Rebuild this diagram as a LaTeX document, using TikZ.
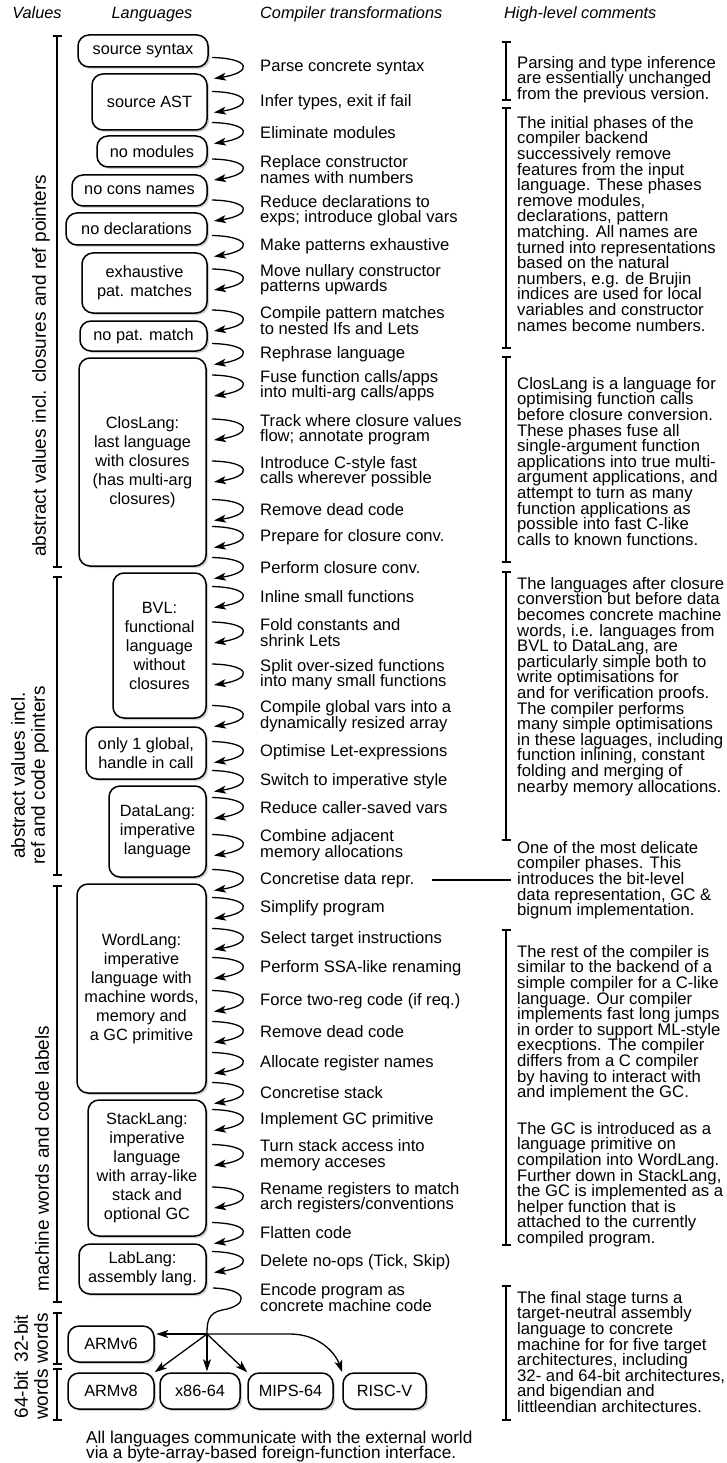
\documentclass[tikz,border=0pt]{standalone}
\usepackage{fontspec}
\setmainfont{Liberation Sans}
\usepackage{tikz}
\usetikzlibrary{arrows.meta,shadows}
\lineskiplimit=-8pt

\begin{document}
\begin{tikzpicture}[x=1pt,y=-1pt,
  every node/.style={inner sep=0pt},
  lang/.style={draw,line width=1.5pt,rounded corners=11pt,fill=white,align=center,
    font=\fontsize{16.3}{19}\selectfont,
    drop shadow={shadow xshift=2pt,shadow yshift=-2pt,fill=black!30,opacity=.6}},
  trans/.style={anchor=west,align=left,font=\fontsize{16.6}{15.5}\selectfont},
  note/.style={anchor=north west,align=left,font=\fontsize{16.7}{15.6}\selectfont},
  hdr/.style={font=\fontsize{16.3}{19}\selectfont\itshape},
  vlabel/.style={rotate=90,align=center,font=\fontsize{19}{20}\selectfont},
  stepto/.style={line width=1.3pt,-{Stealth[length=12pt,width=8pt,inset=3pt]}},
  bar/.style={line width=1.5pt}]

\useasboundingbox (0,0) rectangle (726,1463);

%Headers
\node[hdr,anchor=base] (hval) at (37,19) {Values};
\node[hdr,anchor=base] (hlang) at (152,19) {Languages};
\node[hdr,anchor=base west] (htrans) at (260,19) {Compiler transformations};
\node[hdr,anchor=base west] (hcom) at (504,19) {High-level comments};

%Languages
\node[lang,minimum width=130pt,minimum height=32pt] (srcsyn) at (143,51) {source syntax};
\node[lang,minimum width=115pt,minimum height=56pt] (srcast) at (149.5,102) {source AST};
\node[lang,minimum width=110pt,minimum height=31pt] (nomods) at (152,151.5) {no modules};
\node[lang,minimum width=135pt,minimum height=31pt] (nocons) at (139.5,190.5) {no cons names};
\node[lang,minimum width=141pt,minimum height=32pt] (nodecl) at (136.5,229) {no declarations};
\node[lang,minimum width=125pt,minimum height=60pt] (exhpat) at (144.5,283) {exhaustive\\pat. matches};
\node[lang,minimum width=127pt,minimum height=30pt] (nopat) at (143.5,336) {no pat. match};
\node[lang,minimum width=127pt,minimum height=208pt] (clos) at (142.5,462) {ClosLang:\\last language\\with closures\\(has multi-arg\\closures)};
\node[lang,minimum width=93pt,minimum height=145pt] (bvl) at (159.5,645.5) {BVL:\\functional\\language\\without\\closures};
\node[lang,minimum width=120pt,minimum height=52pt] (oneglob) at (146,753) {only 1 global,\\handle in call};
\node[lang,minimum width=97pt,minimum height=91pt] (data) at (157.5,831.5) {DataLang:\\imperative\\language};
\node[lang,minimum width=129pt,minimum height=209pt] (word) at (141.5,988.5) {WordLang:\\imperative\\language with\\machine words,\\memory and\\a GC primitive};
\node[lang,minimum width=118pt,minimum height=136pt] (stack) at (147,1168) {StackLang:\\imperative\\language\\with array-like\\stack and\\optional GC};
\node[lang,minimum width=127pt,minimum height=50pt] (lab) at (142.5,1269) {LabLang:\\assembly lang.};

%Targets
\node[lang,minimum width=86pt,minimum height=36pt] (armvsix) at (111,1344) {ARMv6};
\node[lang,minimum width=86pt,minimum height=36pt] (armveight) at (111,1391) {ARMv8};
\node[lang,minimum width=80pt,minimum height=36pt] (xeightsix) at (200,1391) {x86-64};
\node[lang,minimum width=85pt,minimum height=36pt] (mips) at (290.5,1391) {MIPS-64};
\node[lang,minimum width=83pt,minimum height=36pt] (riscv) at (384.5,1391) {RISC-V};

%Transformations
\foreach \y/\txt [count=\i] in {68/{Parse concrete syntax}, 102/{Infer types, exit if fail},
  133/{Eliminate modules}, 169.5/{Replace constructor\\names with numbers},
  210.5/{Reduce declarations to\\exps; introduce global vars}, 246/{Make patterns exhaustive},
  279.5/{Move nullary constructor\\patterns upwards}, 320.5/{Compile pattern matches\\to nested Ifs and Lets},
  354/{Rephrase language}, 385.5/{Fuse function calls/apps\\into multi-arg calls/apps},
  429.5/{Track where closure values\\flow; annotate program}, 471.5/{Introduce C-style fast\\calls wherever possible},
  510/{Remove dead code}, 537/{Prepare for closure conv.}, 568/{Perform closure conv.},
  597/{Inline small functions}, 632.5/{Fold constants and\\shrink Lets},
  674.5/{Split over-sized functions\\into many small functions},
  716/{Compile global vars into a\\dynamically resized array}, 752/{Optimise Let-expressions},
  781/{Switch to imperative style}, 808/{Reduce caller-saved vars},
  845/{Combine adjacent\\memory allocations}, 880/{Concretise data repr.},
  908/{Simplify program}, 939/{Select target instructions}, 968/{Perform SSA-like renaming},
  1001/{Force two-reg code (if req.)}, 1032/{Remove dead code}, 1063/{Allocate register names},
  1093/{Concretise stack}, 1120/{Implement GC primitive},
  1155/{Turn stack access into\\memory acceses},
  1197.5/{Rename registers to match\\arch registers/conventions},
  1233/{Flatten code}, 1262/{Delete no-ops (Tick, Skip)}}
{
  \node[trans] (t\i) at (260,\y) {\txt};
  \draw[stepto] (212,\y-10.5) .. controls +(40,1) and +(38,-6) .. (214,\y+10.5);
}
\node[trans] (tenc) at (260,1297.5) {Encode program as\\concrete machine code};

%Code generation fan-out
\coordinate (encout) at (213,1288);
\coordinate (fan) at (207,1334);
\draw[line width=1.3pt] (encout) .. controls (250,1289) and (248,1306) .. (222,1310) .. controls (208,1313) and (207,1322) .. (fan);
\draw[stepto,shorten >=1.5pt] (fan) -- (fan -| armvsix.east);
\draw[stepto] (fan) -- (armveight.north east);
\draw[stepto,shorten >=1pt] (fan) -- (fan |- xeightsix.north);
\draw[stepto] (fan) -- (mips.north west);
\draw[stepto] (fan) -- (290,1334) .. controls (318,1334) and (335,1352) .. (riscv.north west);

%Brackets
\foreach \bx/\ya/\yb in {57/36/567, 57/577/875, 57/886/1302, 57/1313/1364, 57/1369/1420,
  506/42/100, 506/108/348, 506/357/562, 506/572/840, 506/930/1245, 506/1286/1420}
  \draw[bar] (\bx-4.5,\ya) -- (\bx+4.5,\ya) (\bx,\ya) -- (\bx,\yb) (\bx-4.5,\yb) -- (\bx+4.5,\yb);

%Values
\node[vlabel,anchor=west] (vclos) at (41,557) {abstract values incl. closures and ref pointers};
\node[vlabel,anchor=west] (vref) at (30,865) {abstract values incl.\\ref and code pointers};
\node[vlabel,anchor=west] (vword) at (42,1292) {machine words and code labels};
\node[vlabel] (vthirtytwo) at (31,1338.5) {32-bit\\words};
\node[vlabel] (vsixtyfour) at (31,1394.5) {64-bit\\words};

%Comments
\node[note] (cone) at (517,56) {Parsing and type inference\\are essentially unchanged\\from the previous version.};
\node[note] (ctwo) at (517,116) {The initial phases of the\\compiler backend\\successively remove\\features from the input\\language. These phases\\remove modules,\\declarations, pattern\\matching. All names are\\turned into representations\\based on the natural\\numbers, e.g. de Brujin\\indices are used for local\\variables and constructor\\names become numbers.};
\node[note] (cthree) at (517,377) {ClosLang is a language for\\optimising function calls\\before closure conversion.\\These phases fuse all\\single-argument function\\applications into true multi-\\argument applications, and\\attempt to turn as many\\function applications as\\possible into fast C-like\\calls to known functions.};
\node[note] (cfour) at (517,577) {The languages after closure\\converstion but before data\\becomes concrete machine\\words, i.e. languages from\\BVL to DataLang, are\\particularly simple both to\\write optimisations for\\and for verification proofs.\\The compiler performs\\many simple optimisations\\in these laguages, including\\function inlining, constant\\folding and merging of\\nearby memory allocations.};
\node[note] (cfive) at (517,841) {One of the most delicate\\compiler phases. This\\introduces the bit-level\\data representation, GC \&\\bignum implementation.};
\node[note] (csix) at (517,945) {The rest of the compiler is\\similar to the backend of a\\simple compiler for a C-like\\language. Our compiler\\implements fast long jumps\\in order to support ML-style\\execptions. The compiler\\differs from a C compiler\\by having to interact with\\and implement the GC.\\[21pt]The GC is introduced as a\\language primitive on\\compilation into WordLang.\\Further down in StackLang,\\the GC is implemented as a\\helper function that is\\attached to the currently\\compiled program.};
\node[note] (cseven) at (517,1291) {The final stage turns a\\target-neutral assembly\\language to concrete\\machine for for five target\\architectures, including\\32- and 64-bit architectures,\\and bigendian and\\littleendian architectures.};
\draw[line width=1.3pt] ([xshift=18pt]t24.east) -- ([xshift=-6pt]t24.east -| cfive.west);

%Footer
\node[note,font=\fontsize{17.2}{15}\selectfont] (ffi) at (86,1431) {All languages communicate with the external world\\via a byte-array-based foreign-function interface.};
\end{tikzpicture}
\end{document}
